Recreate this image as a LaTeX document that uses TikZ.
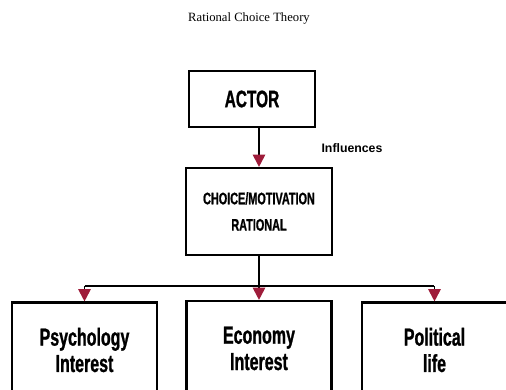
\documentclass[tikz,border=0pt]{standalone}
\usepackage{fontspec}
\setmainfont{Liberation Serif}
\newfontfamily\boxfont[FakeStretch=0.65,BoldFeatures={FakeBold=1}]{Liberation Sans}
\newfontfamily\labelfont{Liberation Sans}
\usetikzlibrary{arrows.meta}
\definecolor{arrowred}{RGB}{158,28,58}

\begin{document}
\begin{tikzpicture}[
        box/.style={draw,line width=1.2pt,align=center,font=\boxfont\bfseries\fontsize{#1}{15}\selectfont},
        link/.style={line width=1.1pt,-{Triangle[width=7pt,length=7pt,fill=arrowred,color=arrowred]}}
    ]
        \useasboundingbox (0,0) rectangle (10.12,7.78);
        \clip (0,0) rectangle (10.12,7.78);

        \node[font=\fontsize{7.2}{9}\selectfont] (title) at (4.98,7.42){Rational Choice Theory};

        \node[box=13.5,minimum width=2.52cm,minimum height=1.12cm] (actor) at (5.04,5.8){ACTOR};
        \node[box=9.5,minimum width=2.92cm,minimum height=1.74cm] (choice) at (5.18,3.55){CHOICE/MOTIVATION\\RATIONAL};
        \node[font=\labelfont\bfseries\fontsize{7}{8}\selectfont] (infl) at (7.04,4.82){Influences};

        \node[box=14,minimum width=2.9cm,minimum height=1.9cm] (psych) at (1.69,0.78){Psychology\\Interest};
        \node[box=14,minimum width=2.9cm,minimum height=1.9cm] (econ) at (5.18,0.81){Economy\\Interest};
        \node[box=14,minimum width=2.9cm,minimum height=1.9cm] (polit) at (8.69,0.78){Political\\life};

        \draw[link] (choice.north |- actor.south) -- (choice.north);

        \draw[line width=1.1pt] (choice.south) -- ++(0,-0.6) coordinate (bus);
        \draw[line width=1.1pt] (psych.north |- bus) -- (polit.north |- bus);
        \foreach \n in {psych,econ,polit}
            \draw[link] (\n.north |- bus) -- (\n.north);
    \end{tikzpicture}
\end{document}
